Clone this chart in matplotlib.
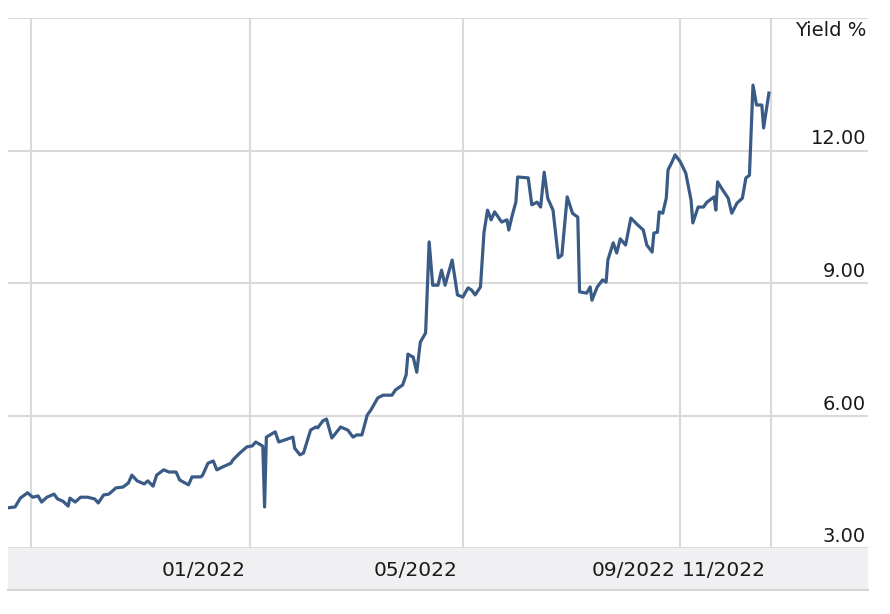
import pandas as pd
import matplotlib
matplotlib.use('Agg')
import matplotlib.pyplot as plt
import matplotlib.transforms as mtransforms
import matplotlib.dates as mdates
from matplotlib.patches import Rectangle

# yield readings (date, %)
dates = [
    '2021-08-17', '2021-08-21', '2021-08-24', '2021-08-28', '2021-08-31', '2021-09-03',
    '2021-09-05', '2021-09-08', '2021-09-12', '2021-09-14', '2021-09-17', '2021-09-20',
    '2021-09-21', '2021-09-24', '2021-09-27', '2021-10-01', '2021-10-05', '2021-10-07',
    '2021-10-10', '2021-10-13', '2021-10-17', '2021-10-21', '2021-10-24', '2021-10-26',
    '2021-10-29', '2021-11-02', '2021-11-04', '2021-11-07', '2021-11-09', '2021-11-13',
    '2021-11-16', '2021-11-20', '2021-11-22', '2021-11-27', '2021-11-29', '2021-12-04',
    '2021-12-05', '2021-12-08', '2021-12-11', '2021-12-13', '2021-12-16', '2021-12-21',
    '2021-12-22', '2021-12-26', '2021-12-30', '2022-01-02', '2022-01-04', '2022-01-07',
    '2022-01-08', '2022-01-09', '2022-01-10', '2022-01-15', '2022-01-17', '2022-01-25',
    '2022-01-26', '2022-01-29', '2022-01-31', '2022-02-04', '2022-02-07', '2022-02-08',
    '2022-02-11', '2022-02-13', '2022-02-16', '2022-02-21', '2022-02-25', '2022-02-28',
    '2022-03-02', '2022-03-05', '2022-03-08', '2022-03-10', '2022-03-14', '2022-03-17',
    '2022-03-22', '2022-03-24', '2022-03-28', '2022-03-30', '2022-03-31', '2022-04-03',
    '2022-04-05', '2022-04-07', '2022-04-10', '2022-04-12', '2022-04-14', '2022-04-17',
    '2022-04-19', '2022-04-21', '2022-04-25', '2022-04-28', '2022-05-01', '2022-05-04',
    '2022-05-06', '2022-05-08', '2022-05-11', '2022-05-13', '2022-05-15', '2022-05-17',
    '2022-05-19', '2022-05-23', '2022-05-26', '2022-05-27', '2022-05-29', '2022-05-31',
    '2022-06-01', '2022-06-07', '2022-06-09', '2022-06-12', '2022-06-14', '2022-06-16',
    '2022-06-18', '2022-06-21', '2022-06-24', '2022-06-26', '2022-06-29', '2022-07-02',
    '2022-07-05', '2022-07-06', '2022-07-10', '2022-07-12', '2022-07-13', '2022-07-16',
    '2022-07-19', '2022-07-21', '2022-07-22', '2022-07-25', '2022-07-27', '2022-07-29',
    '2022-08-01', '2022-08-04', '2022-08-08', '2022-08-11', '2022-08-13', '2022-08-16',
    '2022-08-17', '2022-08-19', '2022-08-20', '2022-08-22', '2022-08-24', '2022-08-25',
    '2022-08-27', '2022-08-29', '2022-09-01', '2022-09-04', '2022-09-07', '2022-09-08',
    '2022-09-11', '2022-09-14', '2022-09-16', '2022-09-20', '2022-09-21', '2022-09-22',
    '2022-09-25', '2022-09-28', '2022-09-30', '2022-10-03', '2022-10-06', '2022-10-08',
    '2022-10-10', '2022-10-12', '2022-10-14', '2022-10-17', '2022-10-18', '2022-10-21',
]
yields = [
    3.91, 3.93, 4.13, 4.25, 4.15, 4.18,
    4.04, 4.15, 4.22, 4.11, 4.06, 3.95,
    4.13, 4.04, 4.15, 4.15, 4.11, 4.02,
    4.20, 4.22, 4.36, 4.38, 4.47, 4.65,
    4.52, 4.45, 4.52, 4.40, 4.65, 4.77,
    4.72, 4.72, 4.54, 4.43, 4.61, 4.61,
    4.65, 4.92, 4.97, 4.77, 4.83, 4.92,
    4.99, 5.15, 5.29, 5.31, 5.40, 5.33,
    5.30, 3.93, 5.51, 5.63, 5.40, 5.51,
    5.26, 5.11, 5.15, 5.67, 5.74, 5.72,
    5.88, 5.92, 5.49, 5.74, 5.67, 5.51,
    5.56, 5.56, 6.01, 6.12, 6.40, 6.46,
    6.46, 6.58, 6.69, 6.92, 7.39, 7.32,
    6.98, 7.66, 7.87, 9.93, 8.95, 8.95,
    9.29, 8.95, 9.52, 8.73, 8.68, 8.89,
    8.84, 8.73, 8.91, 10.15, 10.65, 10.43,
    10.61, 10.38, 10.43, 10.20, 10.54, 10.83,
    11.40, 11.38, 10.77, 10.83, 10.72, 11.51,
    10.92, 10.65, 9.57, 9.63, 10.95, 10.58,
    10.49, 8.80, 8.77, 8.91, 8.61, 8.91,
    9.07, 9.02, 9.52, 9.91, 9.68, 10.00,
    9.86, 10.47, 10.31, 10.20, 9.86, 9.70,
    10.13, 10.15, 10.61, 10.58, 10.92, 11.56,
    11.72, 11.90, 11.74, 11.49, 10.88, 10.36,
    10.72, 10.72, 10.83, 10.95, 10.65, 11.29,
    11.10, 10.92, 10.58, 10.81, 10.92, 11.38,
    11.44, 13.48, 13.03, 13.03, 12.51, 13.30,
]

tick_dates = ['2021-08-30', '2022-01-01', '2022-05-01', '2022-09-01', '2022-10-22']
tick_labels = ['', '01/2022', '05/2022', '09/2022', '11/2022']
y_ticks = [3, 6, 9, 12, 15]

df = pd.DataFrame({'date': pd.to_datetime(dates), 'yield': yields})

plt.rcParams['font.family'] = 'DejaVu Sans'
fig = plt.figure(figsize=(8.9, 6.14), dpi=100)
ax = fig.add_axes([8 / 890, 1 - 548 / 614, 860 / 890, 530 / 614])

ax.plot(df['date'], df['yield'], color='#3a5b86', linewidth=2.3, solid_joinstyle='round', zorder=3)

ax.set_xlim(pd.Timestamp('2021-08-17'), pd.Timestamp('2022-12-16'))
ax.set_ylim(3, 15)
ax.set_xticks(pd.to_datetime(tick_dates))
ax.set_yticks(y_ticks)
ax.grid(True, color='#dadada', linewidth=1.5)
ax.tick_params(length=0, labelbottom=False, labelleft=False)
for s in ax.spines.values():
    s.set_visible(False)

# grey band under the plot holding the date labels
band_h = 42 / 530
ax.add_patch(Rectangle((0, -band_h), 1, band_h, transform=ax.transAxes,
                       facecolor='#f0f0f3', edgecolor='none', clip_on=False, zorder=0))
ax.plot([0, 1], [-band_h, -band_h], transform=ax.transAxes, color='#d4d4d4',
        linewidth=1.5, clip_on=False)

xt = mtransforms.blended_transform_factory(ax.transData, ax.transAxes)
xt = mtransforms.offset_copy(xt, fig=fig, x=-5, y=-22, units='dots')
for d, lab in zip(pd.to_datetime(tick_dates), tick_labels):
    ax.text(mdates.date2num(d), 0, lab, transform=xt, ha='right', va='center',
            fontsize=14.5, color='#1a1a1a')

yt = mtransforms.blended_transform_factory(ax.transAxes, ax.transData)
yt = mtransforms.offset_copy(yt, fig=fig, x=-2, y=6, units='dots')
for v in y_ticks[:-1]:
    ax.text(1, v, f'{v:.2f}', transform=yt, ha='right', va='baseline',
            fontsize=14, color='#1a1a1a')

yl = mtransforms.offset_copy(ax.transAxes, fig=fig, x=-2, y=-3, units='dots')
ax.text(1, 1, 'Yield %', transform=yl, ha='right', va='top', fontsize=14, color='#1a1a1a')

fig.savefig('out.png', dpi=100)
